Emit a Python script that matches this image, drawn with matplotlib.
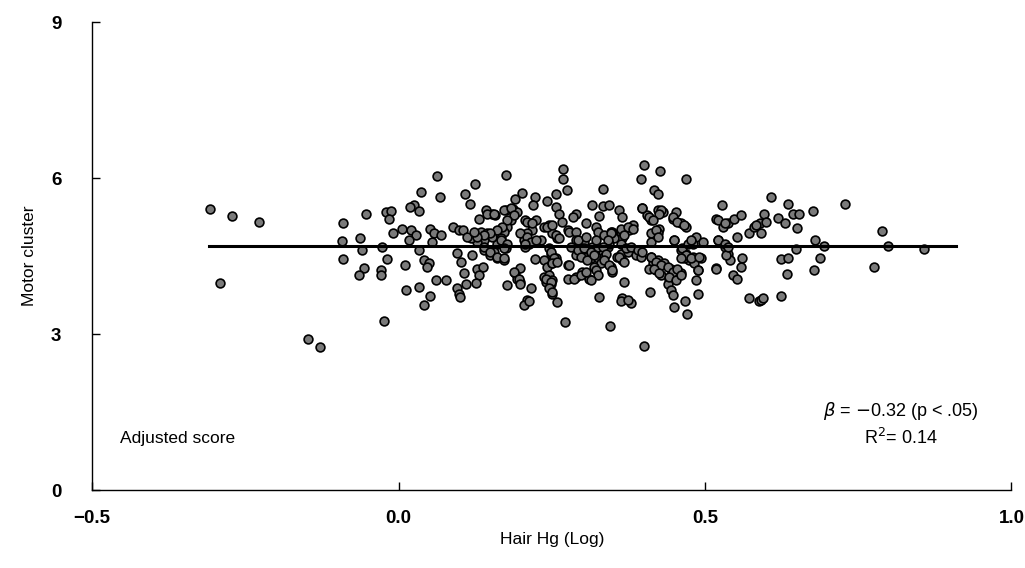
import matplotlib.pyplot as plt

# Hair Hg (log) vs adjusted motor cluster score
hair_hg = [
    -0.307, -0.271, -0.227, -0.292, -0.148, -0.128, -0.091, -0.053, -0.093, -0.063,
    -0.059, -0.090, -0.056, -0.065,
    0.062, 0.176, 0.124, 0.037, 0.067, 0.108, 0.116, 0.201, 0.190, 0.222,
    0.219, 0.242, 0.257, 0.269, 0.268, 0.275, -0.021, -0.012, -0.016, 0.025,
    0.033, 0.018, -0.009, 0.006, 0.020, 0.028, 0.017, -0.027, 0.033, 0.052,
    0.058, 0.069, 0.055, 0.089, 0.098, 0.106, 0.131, 0.142, 0.153, 0.158,
    0.175, 0.186, 0.194, 0.183, 0.177, 0.172, 0.167, 0.161, 0.134, 0.145,
    0.153, 0.139, 0.128, 0.118, 0.112, 0.139, 0.150, 0.161, 0.172, 0.156,
    0.175, 0.207, 0.216, 0.224, 0.218, 0.210, 0.205, 0.213, 0.224, 0.232,
    0.207, 0.237, 0.245, 0.251, 0.259, 0.257, 0.262, 0.267, 0.276, -0.019,
    -0.029, -0.029, 0.010, 0.041, 0.050, 0.047, 0.061, 0.077, 0.013, 0.033,
    0.051, 0.042, -0.024, 0.096, 0.102, 0.120, 0.107, 0.128, 0.138, 0.131,
    0.126, 0.110, 0.096, 0.099, 0.101, 0.177, 0.190, 0.194, 0.199, 0.199,
    0.216, 0.210, 0.205, 0.213, 0.223, 0.237, 0.243, 0.251, 0.257, 0.248,
    0.246, 0.237, 0.245, 0.251, 0.248, 0.240, 0.251, 0.259, 0.272, 0.276,
    0.276,
    0.400, 0.426, 0.395, 0.469, 0.334, 0.417, 0.423, 0.315, 0.333, 0.344,
    0.327, 0.289, 0.284, 0.306, 0.278, 0.289, 0.322, 0.325, 0.360, 0.365,
    0.349, 0.382, 0.376, 0.363, 0.365, 0.398, 0.406, 0.412, 0.423, 0.431,
    0.453, 0.447, 0.461, 0.469, 0.425, 0.423, 0.412, 0.450, 0.485, 0.496,
    0.480, 0.518, 0.529, 0.537, 0.548, 0.559, 0.528, 0.521, 0.553, 0.572,
    0.580, 0.590, 0.290, 0.303, 0.297, 0.308, 0.316, 0.325, 0.333, 0.290,
    0.303, 0.314, 0.325, 0.335, 0.330, 0.319, 0.341, 0.346, 0.352, 0.344,
    0.363, 0.365, 0.357, 0.374, 0.387, 0.395, 0.278, 0.289, 0.300, 0.311,
    0.322, 0.325, 0.346, 0.349, 0.368, 0.327, 0.365, 0.363, 0.379, 0.374,
    0.345, 0.401, 0.410, 0.412, 0.415, 0.409, 0.420, 0.428, 0.423, 0.433,
    0.444, 0.453, 0.461, 0.442, 0.439, 0.444, 0.447, 0.450, 0.467, 0.470,
    0.488, 0.486, 0.461, 0.469, 0.474, 0.480, 0.466, 0.482, 0.488, 0.493,
    0.518, 0.532, 0.537, 0.540, 0.534, 0.561, 0.559, 0.545, 0.552, 0.572,
    0.588,
    0.608, 0.636, 0.728, 0.596, 0.600, 0.583, 0.592, 0.619, 0.631, 0.643,
    0.654, 0.650, 0.677, 0.680, 0.694, 0.649, 0.624, 0.635, 0.687, 0.678,
    0.634, 0.592, 0.594, 0.624, 0.789, 0.798, 0.776, 0.857,
    # points hidden inside the dense middle clusters
    0.145, 0.156, 0.172, 0.183, 0.188, 0.177, 0.169, 0.161, 0.150, 0.139,
    0.128, 0.123, 0.139, 0.150, 0.161, 0.172, 0.167, 0.177, 0.172, 0.199,
    0.210, 0.216, 0.224, 0.207, 0.210, 0.218, 0.243, 0.251, 0.257, 0.262,
    0.248, 0.253, 0.251, 0.259, 0.240, 0.248, 0.245, 0.251, 0.188, 0.196,
    0.199, 0.281, 0.292, 0.303, 0.314, 0.325, 0.297, 0.308, 0.319, 0.292,
    0.306, 0.322, 0.286, 0.297, 0.306, 0.314,
    0.335, 0.346, 0.341, 0.333, 0.338, 0.335, 0.344, 0.349, 0.363, 0.374,
    0.382, 0.368, 0.363, 0.371, 0.379, 0.360, 0.368, 0.390, 0.398, 0.412,
    0.420, 0.423, 0.412, 0.420, 0.428, 0.417, 0.425, 0.439, 0.447, 0.455,
    0.442, 0.453, 0.461, 0.463, 0.472, 0.477, 0.469, 0.461, 0.477, 0.450,
    0.447, 0.455, 0.466, 0.428, 0.425, 0.398, 0.409, 0.415, 0.491, 0.488,
    0.518, 0.521, 0.532, 0.537, 0.521, 0.532,
]
motor = [
    5.40, 5.28, 5.16, 3.98, 2.90, 2.75, 5.13, 5.31, 4.79, 4.84,
    4.62, 4.44, 4.27, 4.13,
    6.04, 6.06, 5.88, 5.74, 5.63, 5.69, 5.51, 5.72, 5.59, 5.63,
    5.48, 5.56, 5.69, 6.17, 5.98, 5.77, 5.35, 5.37, 5.21, 5.48,
    5.37, 5.45, 4.94, 5.02, 5.00, 4.90, 4.81, 4.67, 4.62, 5.03,
    4.94, 4.90, 4.78, 5.06, 5.00, 5.00, 5.22, 5.38, 5.32, 5.30,
    5.38, 5.40, 5.35, 5.19, 5.06, 4.97, 4.84, 4.74, 4.97, 4.94,
    4.87, 4.81, 4.78, 4.84, 4.87, 4.62, 4.52, 4.46, 4.42, 4.58,
    4.65, 5.19, 5.13, 5.19, 5.00, 4.94, 4.81, 4.74, 4.78, 4.81,
    4.68, 5.06, 5.10, 4.94, 4.84, 5.45, 5.32, 5.16, 5.00, 4.44,
    4.23, 4.13, 4.33, 4.42, 4.36, 4.29, 4.05, 4.05, 3.85, 3.91,
    3.74, 3.56, 3.26, 4.57, 4.39, 4.52, 4.17, 4.26, 4.29, 4.13,
    3.99, 3.96, 3.88, 3.78, 3.72, 3.94, 4.17, 4.07, 4.01, 4.28,
    3.88, 3.65, 3.56, 3.63, 4.44, 4.42, 4.29, 4.36, 4.46, 4.55,
    4.65, 4.10, 4.13, 4.04, 3.97, 4.01, 3.78, 3.61, 3.23, 4.33,
    4.07,
    6.26, 6.14, 5.98, 5.98, 5.80, 5.77, 5.69, 5.49, 5.46, 5.49,
    5.27, 5.32, 5.26, 5.13, 4.97, 4.97, 5.06, 4.97, 5.38, 5.26,
    4.97, 5.10, 5.00, 4.97, 4.84, 5.42, 5.29, 5.19, 5.38, 5.35,
    5.35, 5.22, 5.13, 5.06, 5.03, 4.94, 4.78, 4.81, 4.86, 4.78,
    4.74, 5.22, 5.06, 5.13, 5.22, 5.29, 5.49, 4.81, 4.87, 4.95,
    5.06, 5.13, 4.81, 4.78, 4.65, 4.62, 4.68, 4.65, 4.58, 4.52,
    4.49, 4.46, 4.46, 4.49, 4.36, 4.29, 4.68, 4.97, 4.84, 4.74,
    4.55, 4.42, 4.49, 4.58, 4.52, 4.49, 4.33, 4.10, 4.20, 4.07,
    4.23, 4.13, 4.29, 4.20, 4.01, 3.72, 3.69, 3.63, 3.59, 3.65,
    3.15, 2.78, 3.81, 4.49, 4.36, 4.26, 4.23, 4.13, 4.42, 4.36,
    4.26, 4.20, 4.17, 4.07, 3.97, 3.85, 3.75, 3.53, 3.63, 3.38,
    3.78, 4.05, 4.62, 4.55, 4.42, 4.49, 4.46, 4.36, 4.23, 4.47,
    4.28, 4.68, 4.55, 4.42, 4.52, 4.47, 4.29, 4.13, 4.07, 3.69,
    3.63,
    5.63, 5.51, 5.51, 5.32, 5.16, 5.10, 4.94, 5.24, 5.13, 5.31,
    5.31, 5.04, 5.36, 4.82, 4.69, 4.63, 4.44, 4.46, 4.47, 4.24,
    4.15, 3.65, 3.69, 3.73, 4.99, 4.69, 4.29, 4.63,
    # points hidden inside the dense middle clusters
    5.32, 5.32, 5.38, 5.42, 5.29, 5.19, 5.06, 5.00, 4.94, 4.90,
    4.87, 4.97, 4.68, 4.58, 4.49, 4.46, 4.81, 4.74, 4.65, 4.94,
    4.87, 4.78, 4.81, 4.74, 5.16, 5.13, 5.06, 5.10, 4.90, 4.84,
    4.58, 4.46, 4.36, 4.39, 4.07, 4.01, 3.88, 3.81, 4.20, 4.07,
    3.97, 4.68, 4.62, 4.65, 4.58, 4.68, 4.49, 4.42, 4.52, 4.81,
    4.87, 4.81, 4.07, 4.13, 4.20, 4.04,
    4.90, 4.94, 4.81, 4.68, 4.55, 4.42, 4.33, 4.23, 5.03, 5.06,
    5.03, 4.90, 4.74, 4.65, 4.68, 4.49, 4.39, 4.62, 4.58, 4.94,
    5.00, 4.87, 4.49, 4.39, 4.33, 4.26, 4.17, 4.29, 4.20, 4.26,
    4.10, 4.04, 4.13, 4.65, 4.74, 4.81, 4.52, 4.46, 4.46, 4.81,
    5.26, 5.16, 5.10, 5.38, 5.32, 5.42, 5.26, 5.19, 4.49, 4.23,
    4.26, 4.81, 4.74, 4.68, 5.19, 5.13,
]

# fitted line (flat in the figure)
fit_x = [-0.31, 0.91]
fit_y = [4.69, 4.69]

x_ticks = [-0.5, 0.0, 0.5, 1.0]
x_tick_labels = ["\u22120.5", "0.0", "0.5", "1.0"]
y_ticks = [0, 3, 6, 9]

plt.rcParams["font.family"] = ["Liberation Sans", "DejaVu Sans"]

fig = plt.figure(figsize=(10.25, 5.68), dpi=100)
ax = fig.add_axes([0.0898, 0.137, 0.897, 0.824])

ax.scatter(hair_hg, motor, s=40, facecolor="#7a7a7a", edgecolor="black",
           linewidth=1.2, zorder=3)
ax.plot(fit_x, fit_y, color="black", linewidth=2.2, zorder=4)

ax.set_xlim(-0.5, 1.0)
ax.set_ylim(0, 9)
ax.set_xticks(x_ticks)
ax.set_xticklabels(x_tick_labels)
ax.set_yticks(y_ticks)

for side in ["top", "right"]:
    ax.spines[side].set_visible(False)
for side in ["left", "bottom"]:
    ax.spines[side].set_linewidth(1.0)

ax.tick_params(axis="both", direction="in", length=6, width=1.0, labelsize=13.5)
ax.tick_params(axis="x", pad=14)
ax.tick_params(axis="y", pad=22)
for lbl in ax.get_xticklabels() + ax.get_yticklabels():
    lbl.set_fontweight("bold")

ax.set_xlabel("Hair Hg (Log)", fontsize=12.5, labelpad=4)
ax.set_ylabel("Motor cluster", fontsize=12.5, labelpad=10)

ax.text(-0.454, 1.0, "Adjusted score", fontsize=12.5, ha="left", va="center")
ax.text(0.82, 1.52, r"$\beta$ = $-$0.32 (p < .05)", fontsize=13,
        ha="center", va="center")
ax.text(0.82, 1.0, r"R$^2$= 0.14", fontsize=13, ha="center", va="center")

fig.savefig("out.png", dpi=100)
